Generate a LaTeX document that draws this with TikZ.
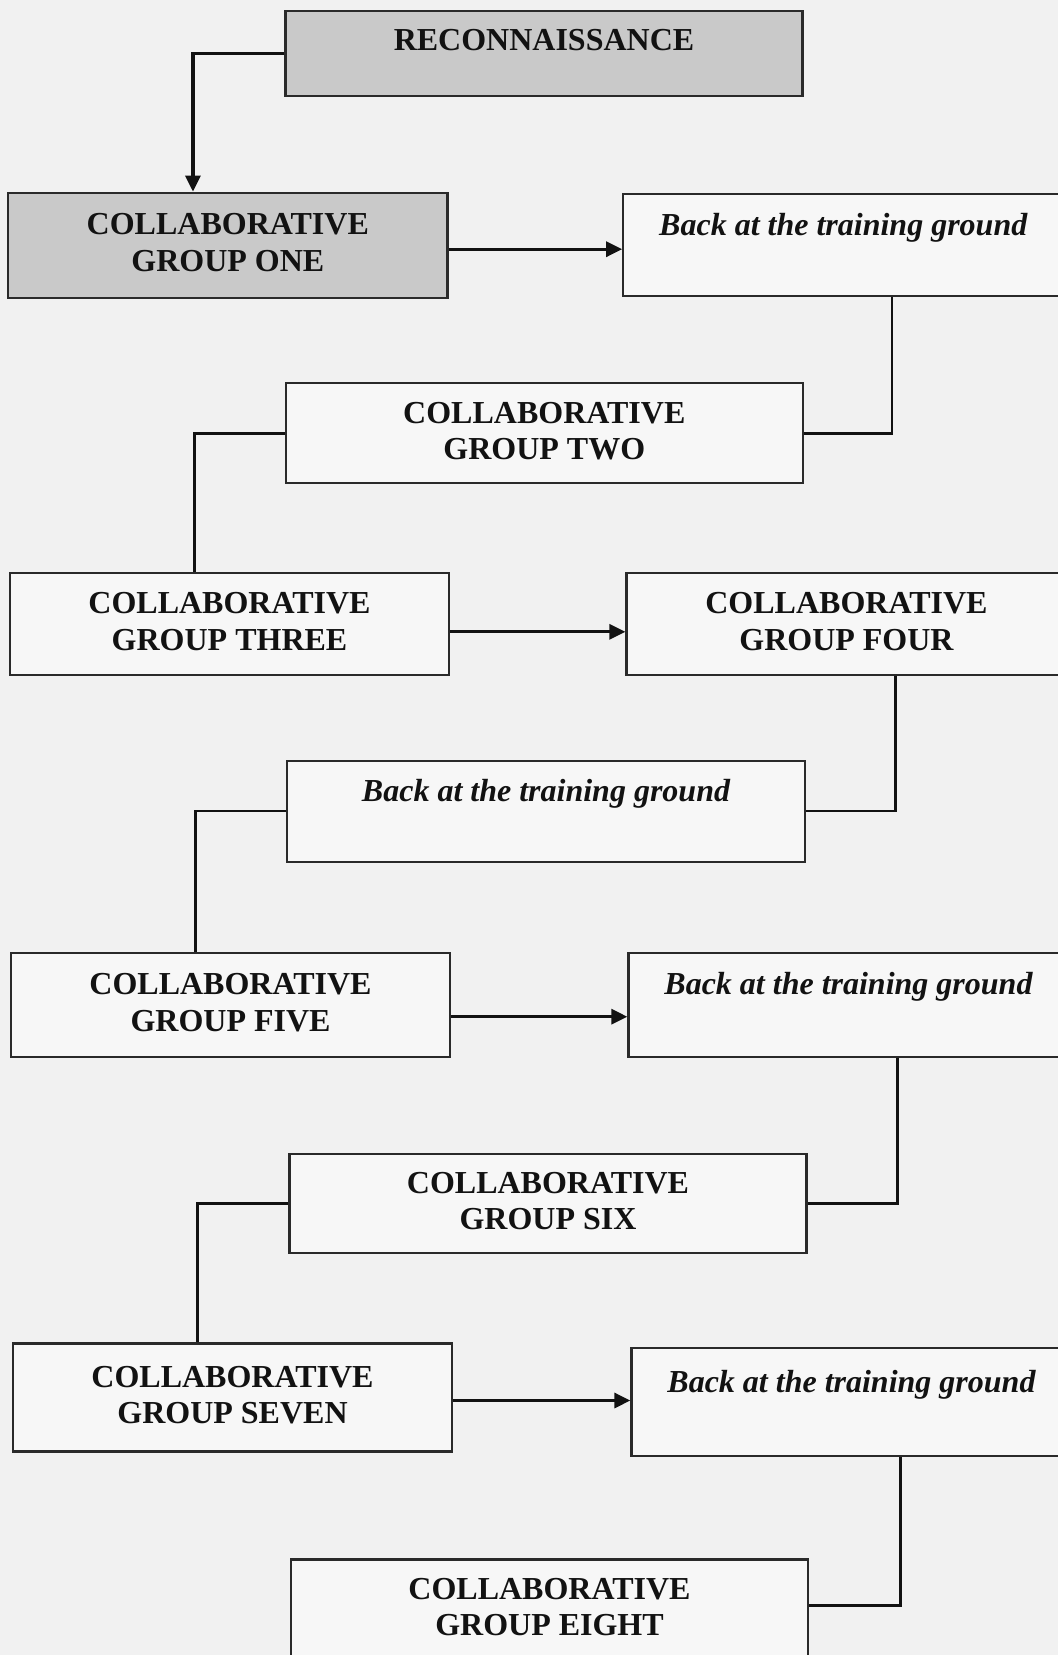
\documentclass[tikz,border=0pt]{standalone}
\usepackage{fontspec}
\setmainfont{Liberation Serif}
\usetikzlibrary{positioning, arrows.meta}
\definecolor{paper}{HTML}{F1F1F1}
\definecolor{boxw}{HTML}{F7F7F7}
\definecolor{boxg}{HTML}{C9C9C9}
\definecolor{char}{HTML}{121212}
\definecolor{rule}{HTML}{2A2A2A}

\begin{document}
\begin{tikzpicture}[
  x=0.5pt, y=-0.5pt,
  font=\fontsize{16}{18.3}\selectfont\bfseries,
  grp/.style={draw=rule, line width=1.1pt, fill=boxw, align=center, text=char,
              inner sep=0pt, minimum width=219.75pt, minimum height=51pt,
              text depth=2.5pt},
  midgrp/.style={grp, minimum width=258.5pt},
  ground/.style={grp, minimum width=220pt, text depth=21pt,
                 font=\fontsize{16}{18.3}\selectfont\bfseries\itshape},
  shade/.style={fill=boxg},
  arr/.style={-{Triangle[length=8pt, width=7.5pt]}, line width=1.6pt, draw=char},
  link/.style={line width=1.2pt, draw=char},
]
\useasboundingbox (0,0) rectangle (1058,1655);
\clip (0,0) rectangle (1058,1655);
\fill[paper] (0,0) rectangle (1058,1655);

% ── top ──────────────────────────────────────────────────────────────────────
\node[midgrp, shade, minimum height=42.5pt, text depth=13.5pt] (recon)
    at (544, 53.5) {RECONNAISSANCE};

% ── zig-zag rows ─────────────────────────────────────────────────────────────
\node[grp, shade, minimum height=52.5pt] (cg1) at (227.8, 245.2)
    {COLLABORATIVE\\GROUP ONE};
\node[ground, right=86.75pt of cg1] (back1) {Back at the training ground};

\node[midgrp, minimum height=50pt] (cg2) at (544.3, 433.3)
    {COLLABORATIVE\\GROUP TWO};

\node[grp] (cg3) at (229.5, 623.8) {COLLABORATIVE\\GROUP THREE};
\node[grp, minimum width=220pt, right=87.5pt of cg3] (cg4)
    {COLLABORATIVE\\GROUP FOUR};

\node[midgrp, ground, minimum width=259pt, minimum height=50.5pt] (back2)
    at (546, 811.2) {Back at the training ground};

\node[grp, minimum height=52pt] (cg5) at (230.5, 1004.7)
    {COLLABORATIVE\\GROUP FIVE};
\node[ground, minimum height=52pt, right=88pt of cg5] (back3)
    {Back at the training ground};

\node[midgrp, minimum height=49.5pt] (cg6) at (548, 1203.5)
    {COLLABORATIVE\\GROUP SIX};

\node[grp, minimum height=54pt] (cg7) at (232.5, 1397.5)
    {COLLABORATIVE\\GROUP SEVEN};
\node[ground, minimum height=54pt, right=88.5pt of cg7, yshift=-2.25pt] (back4)
    {Back at the training ground};

\node[midgrp, minimum height=50pt] (cg8) at (549.5, 1609.5)
    {COLLABORATIVE\\GROUP EIGHT};

% ── connectors ───────────────────────────────────────────────────────────────
\draw[arr] (recon.west) -| ([xshift=93pt]cg1.north west);

\draw[arr] ([yshift=-2pt]cg1.east) -- ([yshift=-2pt]cg1.east -| back1.west);
\draw[link] ([xshift=135pt]back1.south west) |- (cg2.east);
\draw[link] (cg2.west) -| ([xshift=93pt]cg3.north west);

\draw[arr] ([yshift=-4pt]cg3.east) -- ([yshift=-4pt]cg3.east -| cg4.west);
\draw[link] ([xshift=135pt]cg4.south west) |- (back2.east);
\draw[link] (back2.west) -| ([xshift=93pt]cg5.north west);

\draw[arr] ([yshift=-6pt]cg5.east) -- ([yshift=-6pt]cg5.east -| back3.west);
\draw[link] ([xshift=135pt]back3.south west) |- (cg6.east);
\draw[link] (cg6.west) -| ([xshift=93pt]cg7.north west);

\draw[arr] ([yshift=-1.5pt]cg7.east) -- ([yshift=-1.5pt]cg7.east -| back4.west);
\draw[link] ([xshift=135pt]back4.south west) |- ([yshift=2pt]cg8.east);

\end{tikzpicture}
\end{document}
